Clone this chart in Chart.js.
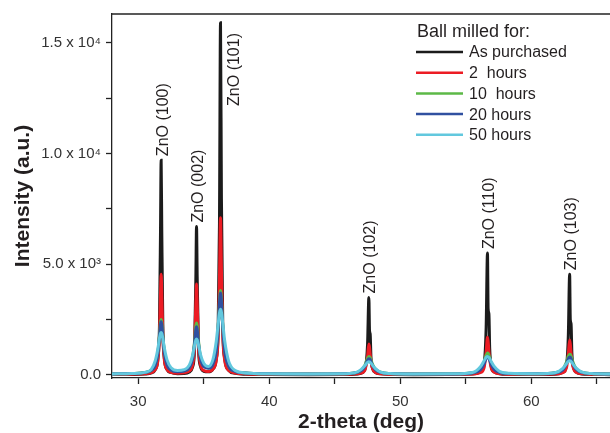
<!DOCTYPE html>
<html>
<head>
<meta charset="utf-8">
<script src="https://cdn.jsdelivr.net/npm/chart.js"></script>
<style>
    html, body { margin: 0; padding: 0; background: #fff; }
    #wrap { width: 610px; height: 433px; }
</style>
</head>
<body>
<div id="wrap"><canvas id="xrd"></canvas></div>
<script>
    // 2-theta grid shared by every pattern (deg)
    const twoTheta = [28.0, 29.5, 30.5, 31.0, 31.3, 31.5, 31.62, 31.7, 31.75, 31.8, 31.88, 32.0, 32.2, 32.5, 33.0,
        33.5, 33.9, 34.15, 34.3, 34.4, 34.45, 34.5, 34.6, 34.75, 35.0, 35.35, 35.7, 35.95, 36.1, 36.2, 36.28,
        36.35, 36.45, 36.6, 36.9, 37.4, 38.2, 40.0, 43.0, 45.5, 46.5, 47.0, 47.3, 47.5, 47.6, 47.65, 47.7, 47.76,
        47.9, 48.1, 48.5, 49.2, 51.0, 54.0, 55.5, 56.1, 56.4, 56.55, 56.65, 56.7, 56.76, 56.82, 56.95, 57.15,
        57.55, 58.3, 60.5, 61.8, 62.4, 62.7, 62.82, 62.92, 62.97, 63.03, 63.09, 63.22, 63.42, 63.82, 64.6, 66.0];

    // intensities (a.u.)
    const asPurchased = [15, 20, 40, 93, 240, 720, 2190, 6420, 9700, 6420, 2190, 720, 240, 110, 55,
        60, 130, 360, 1210, 4450, 6700, 4450, 1210, 390, 165, 140, 260, 700, 2100, 6850, 15900,
        7960, 2310, 740, 210, 72, 31, 15, 10, 14, 30, 75, 250, 1380, 3500, 2000, 1850, 800,
        260, 110, 50, 25, 12, 15, 37, 125, 520, 2160, 5500, 3000, 2750, 1200, 350, 140,
        55, 25, 15, 33, 116, 540, 1790, 4550, 2500, 2300, 1000, 320, 120, 45, 22, 12];
    const hours2 = [28, 34, 54, 105, 240, 650, 1720, 3665, 4550, 3665, 1720, 650, 240, 116, 73,
        94, 178, 445, 1300, 3310, 4100, 3310, 1300, 466, 199, 156, 257, 640, 1700, 4360, 7100,
        4780, 1850, 660, 205, 81, 44, 30, 25, 28, 41, 79, 218, 850, 1400, 1250, 950, 600,
        260, 110, 55, 33, 25, 27, 43, 102, 343, 1030, 1700, 1520, 1100, 700, 290, 130,
        60, 34, 29, 43, 105, 387, 957, 1580, 1400, 1000, 640, 280, 120, 58, 33, 27];
    const hours10 = [44, 61, 107, 210, 454, 1008, 1775, 2358, 2505, 2358, 1778, 1014, 466, 230, 152,
        182, 345, 778, 1528, 2206, 2342, 2210, 1539, 802, 397, 314, 496, 1089, 2144, 3302, 3817,
        3403, 2238, 1114, 408, 166, 85, 50, 41, 51, 90, 195, 435, 755, 835, 820, 775, 677,
        455, 262, 120, 62, 41, 47, 96, 253, 595, 890, 985, 969, 886, 769, 525, 297,
        130, 65, 55, 98, 260, 620, 845, 935, 921, 842, 731, 500, 284, 125, 63, 43];
    const hours20 = [44, 60, 104, 203, 437, 969, 1705, 2265, 2406, 2265, 1708, 975, 449, 220, 145,
        173, 323, 726, 1423, 2054, 2180, 2058, 1434, 756, 375, 300, 478, 1057, 2081, 3204, 3704,
        3302, 2172, 1082, 397, 162, 84, 50, 41, 50, 85, 180, 387, 665, 735, 722, 683, 600,
        409, 239, 112, 59, 40, 45, 87, 220, 505, 753, 835, 820, 750, 652, 452, 260,
        118, 62, 53, 90, 228, 535, 728, 805, 793, 725, 630, 435, 252, 114, 60, 42];
    const hours50 = [45, 62, 115, 250, 640, 1180, 1650, 1870, 1920, 1870, 1650, 1200, 680, 330, 195,
        235, 440, 880, 1330, 1580, 1620, 1585, 1360, 930, 530, 380, 690, 1500, 2290, 2800, 2960,
        2830, 2340, 1540, 620, 200, 90, 50, 42, 51, 91, 237, 421, 569, 595, 588, 569, 532,
        421, 286, 125, 62, 40, 50, 109, 355, 646, 797, 835, 825, 787, 735, 587, 393,
        163, 71, 53, 94, 294, 523, 612, 640, 633, 604, 564, 452, 306, 132, 62, 43];

    const seriesNames = ['As purchased', '2  hours', '10  hours', '20 hours', '50 hours'];
    const seriesColors = ['#1b1b1b', '#ec1c24', '#5cb947', '#3050a0', '#62c8de'];
    const legendTitle = 'Ball milled for:';

    const peakNames = ['ZnO (100)', 'ZnO (002)', 'ZnO (101)', 'ZnO (102)', 'ZnO (110)', 'ZnO (103)'];
    const peakAngles = [31.75, 34.45, 36.28, 47.6, 56.65, 62.92];

    const xTickValues = [30, 35, 40, 45, 50, 55, 60, 65];
    const xTickLabels = ['30', '', '40', '', '50', '', '60', ''];
    const yTickValues = [0, 2500, 5000, 7500, 10000, 12500, 15000];
    const yTickLabels = ['0.0', '', '5.0 x 10³', '', '1.0 x 10⁴', '', '1.5 x 10⁴'];

    const FONT = '"Liberation Sans", Arial, Helvetica, sans-serif';
    Chart.defaults.font.family = FONT;

    const allSeries = [asPurchased, hours2, hours10, hours20, hours50];
    const datasets = allSeries.map((vals, i) => ({
        label: seriesNames[i],
        data: twoTheta.map((t, k) => ({ x: t, y: vals[k] })),
        borderColor: seriesColors[i],
        backgroundColor: seriesColors[i],
        borderWidth: 3,
        pointRadius: 0,
        fill: false,
        cubicInterpolationMode: 'monotone',
        order: allSeries.length - i   // black at the back, 50 h on top
    }));

    // frame top line, peak labels and the legend box
    const decorations = {
        id: 'decorations',
        afterDraw(chart) {
            const { ctx, chartArea } = chart;
            const xs = chart.scales.x, ys = chart.scales.y;
            ctx.save();
            ctx.strokeStyle = '#222';
            ctx.lineWidth = 1.3;
            ctx.beginPath();
            ctx.moveTo(chartArea.left, chartArea.top);
            ctx.lineTo(chartArea.right, chartArea.top);
            ctx.stroke();

            // peak labels, rotated, just above each peak
            ctx.fillStyle = '#231f20';
            ctx.font = '16px ' + FONT;
            ctx.textBaseline = 'middle';
            peakNames.forEach((name, i) => {
                const k = twoTheta.indexOf(peakAngles[i]);
                const px = xs.getPixelForValue(peakAngles[i]);
                const py = ys.getPixelForValue(asPurchased[k]);
                const w = ctx.measureText(name).width;
                ctx.save();
                if (py - 4 - w < chartArea.top) {
                    // no room above: put it beside the peak
                    ctx.translate(px + 14, chartArea.top + 19);
                    ctx.rotate(-Math.PI / 2);
                    ctx.textAlign = 'right';
                } else {
                    ctx.translate(px + 2, py - 4);
                    ctx.rotate(-Math.PI / 2);
                    ctx.textAlign = 'left';
                }
                ctx.fillText(name, 0, 0);
                ctx.restore();
            });

            // legend
            ctx.textAlign = 'left';
            ctx.font = '18px ' + FONT;
            ctx.fillText(legendTitle, 417, 32);
            ctx.font = '16px ' + FONT;
            chart.data.datasets.forEach((ds, i) => {
                const y = 52 + i * 20.7;
                ctx.strokeStyle = ds.borderColor;
                ctx.lineWidth = 2.5;
                ctx.beginPath();
                ctx.moveTo(416, y);
                ctx.lineTo(463, y);
                ctx.stroke();
                ctx.fillText(ds.label, 469, y + 1);
            });
            ctx.restore();
        }
    };

    new Chart(document.getElementById('xrd'), {
        type: 'line',
        data: { datasets: datasets },
        plugins: [decorations],
        options: {
            responsive: true,
            maintainAspectRatio: false,
            animation: false,
            devicePixelRatio: 1,
            layout: { padding: { top: 13, right: 0, bottom: 0, left: 0 } },
            plugins: { legend: { display: false }, tooltip: { enabled: false } },
            scales: {
                x: {
                    type: 'linear',
                    min: 28,
                    max: 66,
                    border: { display: true, color: '#222', width: 1.3 },
                    grid: { drawOnChartArea: false, drawTicks: true, tickLength: 6, tickColor: '#222', tickWidth: 1.3 },
                    afterBuildTicks: s => { s.ticks = xTickValues.map(v => ({ value: v })); },
                    afterFit: s => { s.height = 55; },
                    ticks: {
                        autoSkip: false,
                        maxRotation: 0,
                        padding: 9,
                        color: '#333',
                        font: { size: 15 },
                        callback: (v, i) => xTickLabels[i]
                    },
                    title: {
                        display: true,
                        text: '2-theta (deg)',
                        color: '#231f20',
                        font: { size: 21, weight: 'bold' },
                        padding: { top: 0, bottom: -2 }
                    }
                },
                y: {
                    type: 'linear',
                    min: -140,
                    max: 16300,
                    border: { display: true, color: '#222', width: 1.3 },
                    grid: { drawOnChartArea: false, drawTicks: true, tickLength: 6, tickColor: '#222', tickWidth: 1.3 },
                    afterBuildTicks: s => { s.ticks = yTickValues.map(v => ({ value: v })); },
                    afterFit: s => { s.width = 112; },
                    ticks: {
                        autoSkip: false,
                        padding: 5,
                        color: '#333',
                        font: { size: 15 },
                        callback: (v, i) => yTickLabels[i]
                    },
                    title: {
                        display: true,
                        text: 'Intensity (a.u.)',
                        color: '#231f20',
                        font: { size: 21, weight: 'bold' },
                        padding: { top: 11, bottom: 0 }
                    }
                }
            }
        }
    });
</script>
</body>
</html>
